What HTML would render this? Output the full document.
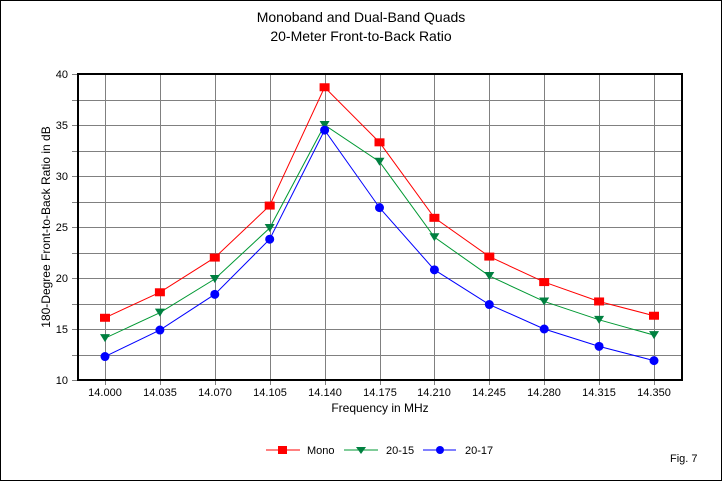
<!DOCTYPE html>
<html><head><meta charset="utf-8"><style>
body{margin:0;background:#fff}
svg{display:block;font-family:"Liberation Sans",Arial,sans-serif}
</style></head><body>
<svg id="s" width="722" height="481" viewBox="0 0 722 481" xmlns="http://www.w3.org/2000/svg">
<rect x="0.5" y="0.5" width="721" height="480" fill="#fff" stroke="#000"/>
<text x="361" y="22" font-size="14" text-anchor="middle">Monoband and Dual-Band Quads</text>
<text x="361" y="41" font-size="14" text-anchor="middle">20-Meter Front-to-Back Ratio</text>
<g id="grid" stroke="#808080" stroke-width="1"></g>
<rect x="78" y="74" width="604" height="306" fill="none" stroke="#000" stroke-width="2"/>
<g font-size="11" text-anchor="end">
<text x="68" y="78">40</text><text x="68" y="129">35</text><text x="68" y="180">30</text>
<text x="68" y="231">25</text><text x="68" y="282">20</text><text x="68" y="333">15</text><text x="68" y="384">10</text>
</g>
<g font-size="11" text-anchor="middle">
<text x="105" y="396">14.000</text><text x="160" y="396">14.035</text><text x="215" y="396">14.070</text>
<text x="270" y="396">14.105</text><text x="325" y="396">14.140</text><text x="380" y="396">14.175</text>
<text x="434" y="396">14.210</text><text x="489" y="396">14.245</text><text x="544" y="396">14.280</text>
<text x="599" y="396">14.315</text><text x="654" y="396">14.350</text>
</g>
<text x="380" y="412" font-size="12" text-anchor="middle">Frequency in MHz</text>
<text transform="translate(50,227) rotate(-90)" font-size="12" text-anchor="middle">180-Degree Front-to-Back Ratio in dB</text>
<g id="series"></g>
<g font-size="11">
<line x1="266" y1="450" x2="300" y2="450" stroke="#f00"/><rect x="278" y="446" width="9" height="8" fill="#f00"/>
<text x="307" y="454">Mono</text>
<line x1="344" y1="450" x2="378" y2="450" stroke="#009933"/><polygon points="356,447 366,447 361,454" fill="#008040"/>
<text x="386" y="454">20-15</text>
<line x1="423" y1="450" x2="456" y2="450" stroke="#00f"/><circle cx="440" cy="450" r="4" fill="#00f"/>
<text x="465" y="454">20-17</text>
</g>
<text x="670" y="462" font-size="11">Fig. 7</text>
</svg>
<script>
var ns="http://www.w3.org/2000/svg",g=document.getElementById("grid"),S=document.getElementById("series");
function el(p,t,a){var e=document.createElementNS(ns,t);for(var k in a)e.setAttribute(k,a[k]);p.appendChild(e);return e;}
var X=[];for(var i=0;i<11;i++)X.push(105+54.9*i);
X.forEach(function(x){x=Math.round(x)+0.5;el(g,"line",{x1:x,y1:74,x2:x,y2:385});});
for(var v=10;v<=40;v+=2.5){var y=Math.round(380-(v-10)*10.2)+0.5;el(g,"line",{x1:72,y1:y,x2:682,y2:y});}
function Y(v){return 380-(v-10)*10.2;}
var D=[
{c:"#f00",m:"sq",d:[16.1,18.6,22.0,27.1,38.7,33.3,25.9,22.1,19.6,17.7,16.3]},
{c:"#009933",mc:"#008040",m:"tri",d:[14.1,16.6,19.9,24.9,35.0,31.4,24.0,20.2,17.7,15.9,14.4]},
{c:"#00f",m:"ci",d:[12.3,14.9,18.4,23.8,34.5,26.9,20.8,17.4,15.0,13.3,11.9]}];
D.forEach(function(s){
 el(S,"polyline",{points:s.d.map(function(v,i){return X[i]+","+Y(v)}).join(" "),fill:"none",stroke:s.c,"stroke-width":1});
 s.d.forEach(function(v,i){var x=X[i],y=Y(v);
  if(s.m=="sq")el(S,"rect",{x:x-5,y:y-4,width:10,height:8,fill:s.c});
  else if(s.m=="tri")el(S,"polygon",{points:(x-5)+","+(y-4)+" "+(x+5)+","+(y-4)+" "+x+","+(y+4),fill:s.mc});
  else el(S,"circle",{cx:x,cy:y,r:4.5,fill:s.c});
 });
});
</script>
</body></html>
